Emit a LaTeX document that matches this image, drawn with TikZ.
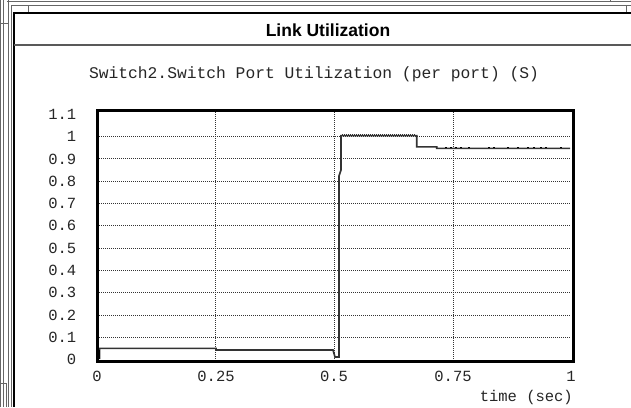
\documentclass[tikz,border=0pt]{standalone}
\usepackage{fontspec}
\setmainfont{Liberation Sans}
\newfontfamily\plotmono{Liberation Mono}
\begin{document}
\begin{tikzpicture}[x=1pt,y=-1pt,
  frame/.style={draw=black!60,line width=1pt},
  heavy/.style={draw=black,line width=2pt},
  gridline/.style={draw=black!80,line width=1pt,dash pattern=on 1pt off 1pt},
  databox/.style={draw=black,line width=3pt},
  dataline/.style={draw=black!80,line width=1.6pt,line join=miter},
  ticklab/.style={font=\plotmono\fontsize{15.5}{16}\selectfont,inner sep=0pt,text=black!85},
  ptitlelab/.style={font=\plotmono\fontsize{16.3}{17}\selectfont,inner sep=0pt,text=black!85},
  titlelab/.style={font=\bfseries\fontsize{17.5}{19}\selectfont,inner sep=0pt}]
\useasboundingbox (0,0) rectangle (631,407);
\fill[white] (0,0) rectangle (631,407);
% window frame
\draw[frame] (0.5,0) -- (0.5,407);
\draw[frame] (3.5,0) -- (3.5,407);
\draw[frame] (0,23) -- (8,23);
\draw[frame] (0,383) -- (6,383) -- (6,407);
\draw[frame] (8.5,0) -- (8.5,407);
\draw[frame] (11.5,5) -- (11.5,407);
\draw[heavy] (14,12) -- (14,407);
\draw[frame] (7,1) -- (631,1);
\draw[frame] (11,5.5) -- (631,5.5);
\draw[frame] (28,5.5) -- (28,12);
\draw[frame] (610,0) -- (610,1);
\draw[frame] (626,5.5) -- (626,12);
\draw[heavy] (13,12.5) -- (631,12.5);
\draw[draw=black!65,line width=1.5pt] (14,45) -- (631,45);
\node[titlelab] (title) at (328,30) {Link Utilization};
\node[ptitlelab] (ptitle) at (314,74) {Switch2.Switch Port Utilization (per port) (S)};
% grid
\foreach \v in {1,...,10} {
  \draw[gridline] (99,{359.6-22.3*\v}) -- (571,{359.6-22.3*\v});
}
\foreach \t in {0.25,0.5,0.75} {
  \draw[gridline] ({97+475*\t},112) -- ({97+475*\t},359);
}
% y labels
\foreach \v/\l in {0/0,1/0.1,2/0.2,3/0.3,4/0.4,5/0.5,6/0.6,7/0.7,8/0.8,9/0.9,10/1,11/1.1} {
  \node[ticklab,anchor=east] (y\v) at (76.5,{359.6-22.3*\v}) {\l};
}
% x labels
\node[ticklab] (x0) at (97,376) {0};
\node[ticklab] (x1) at (216,376) {0.25};
\node[ticklab] (x2) at (334,376) {0.5};
\node[ticklab] (x3) at (453,376) {0.75};
\node[ticklab] (x4) at (571,376) {1};
\node[ticklab,anchor=east] (xl) at (573,397) {time (sec)};
% data
\draw[dataline] (99.5,359) -- (99.5,348.3) -- (216,348.3) -- (216,350) -- (333,350) -- (335,357) -- (339,357) -- (339,176) -- (341,170) -- (341,135.6) -- (416.7,135.6) -- (416.7,146.9) -- (436.7,146.9) -- (436.7,148.3) -- (570,148.3);
\draw[black,line width=3pt] (98.5,359) -- (98.5,350);
\draw[draw=black!80,line width=1pt,dash pattern=on 1pt off 1pt] (342,134.2) -- (416,134.2);
\foreach \xx in {445,450,455,460,468,488,493,507,517,527,533,540,545,560} {
  \fill[black] (\xx,146.5) rectangle ++(1.6,1.6);
}
% plot box
\draw[databox] (97,110.5) rectangle (573,361);
\end{tikzpicture}
\end{document}
